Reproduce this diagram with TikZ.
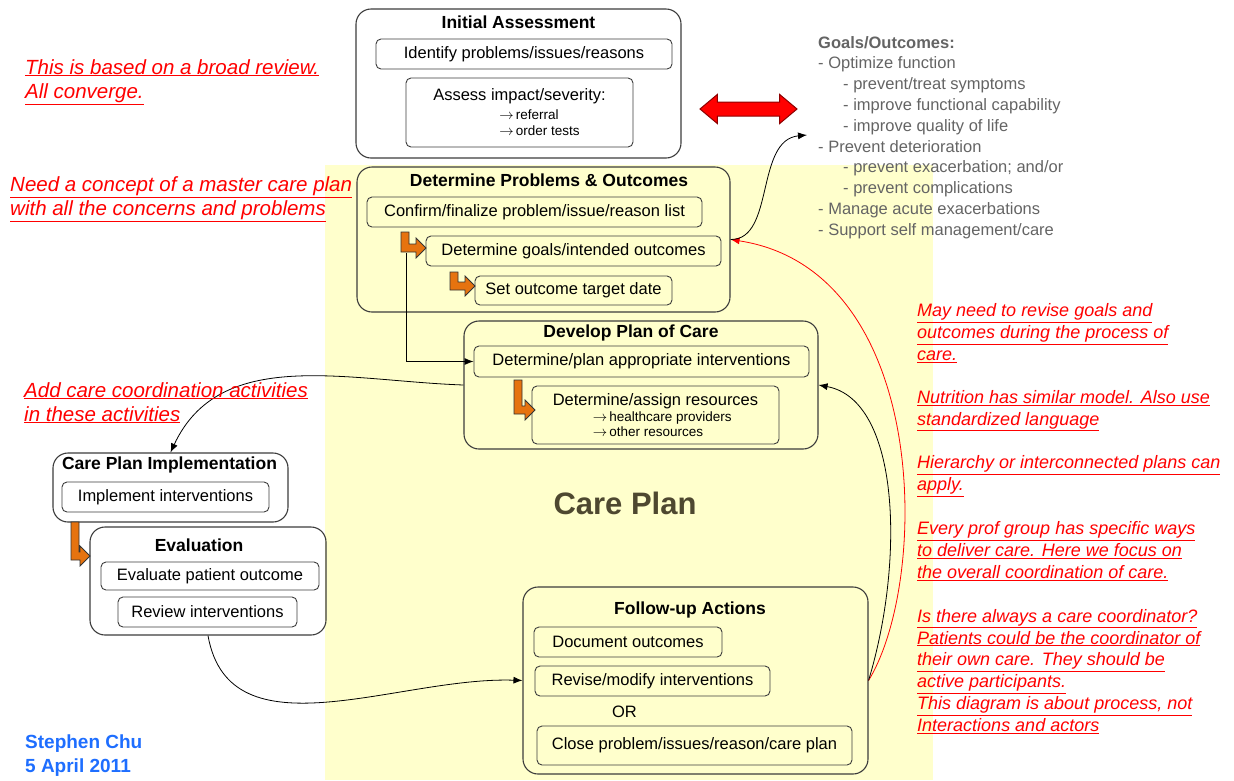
\documentclass[tikz,border=0pt]{standalone}
\usepackage{fontspec}
\setmainfont{Liberation Sans}
\usepackage{tikz}
\definecolor{cpyellow}{RGB}{255, 255, 204}
\definecolor{linegray}{RGB}{60, 60, 60}
\definecolor{goalgray}{RGB}{100, 100, 100}
\definecolor{bendorange}{RGB}{230, 115, 15}
\definecolor{nameblue}{RGB}{30, 110, 255}
\definecolor{careplanbrown}{RGB}{78, 72, 48}
\definecolor{darkred}{RGB}{140, 0, 0}
\usetikzlibrary{arrows.meta}
\usetikzlibrary{shapes.arrows}

\newcommand{\resline}[2]{\hspace*{#1}{\fontsize{13.5}{15}\selectfont$\rightarrow$\,#2}}

\tikzset{
  stagebox/.style={rectangle, rounded corners=15pt, draw=linegray, line width=1.1pt, inner sep=0pt},
  stepitem/.style={rectangle, rounded corners=5pt, draw=linegray, line width=0.9pt, inner sep=0pt, align=center, font=\fontsize{16.5}{19}\selectfont},
  stagetitle/.style={inner sep=0pt, font=\bfseries\fontsize{17.5}{20}\selectfont},
  conn/.style={line width=0.8pt, color=black, -{Latex[length=9pt, width=7pt]}},
  redconn/.style={line width=0.8pt, color=red, -{Latex[length=9pt, width=7pt]}},
  orangebend/.style={fill=bendorange, draw=black!80, line width=0.8pt, line join=miter},
  sidenote/.style={anchor=north west, inner sep=0pt, align=left, text=red, font=\itshape\fontsize{20.5}{24}\selectfont},
  rightnote/.style={anchor=north west, inner sep=0pt, align=left, text=red, font=\itshape\fontsize{18}{21.84}\selectfont},
  pics/bentarrow/.style 2 args={code={
    \filldraw [orangebend] (0pt, 0pt) -- (8pt, 0pt) -- (8pt, -#1pt+8pt) -- (#2pt-10pt, -#1pt+8pt)
      -- (#2pt-10pt, -#1pt+14pt) -- (#2pt, -#1pt+4pt) -- (#2pt-10pt, -#1pt-6pt)
      -- (#2pt-10pt, -#1pt) -- (0pt, -#1pt) -- cycle;
  }}
}

\begin{document}
\begin{tikzpicture}
\useasboundingbox (0pt, 0pt) rectangle (1234pt, -780pt);
% care plan area
\fill [cpyellow] (325pt, -165pt) rectangle (933pt, -780pt);
\node (cptitle) [font=\bfseries\fontsize{31}{36}\selectfont, text=careplanbrown] at (625pt, -503pt) {Care Plan};

% initial assessment
\node (ia) [stagebox, minimum width=325pt, minimum height=149pt] at (518.5pt, -83.5pt) {};
\node (iatitle) [stagetitle] at (518.5pt, -22pt) {Initial Assessment};
\node (ia1) [stepitem, minimum width=296pt, minimum height=30pt] at (524pt, -54pt) {Identify problems/issues/reasons};
\node (ia2) [stepitem, align=left, minimum width=227pt, minimum height=69pt] at (519.5pt, -112.5pt) {Assess impact/severity:\\ \resline{66pt}{referral}\\[-3pt] \resline{66pt}{order tests}};

% determine problems & outcomes
\node (dpo) [stagebox, minimum width=373pt, minimum height=145pt] at (543.5pt, -239.5pt) {};
\node (dpotitle) [stagetitle] at (549pt, -180pt) {Determine Problems \& Outcomes};
\node (dpo1) [stepitem, minimum width=335pt, minimum height=30pt] at (534.5pt, -212pt) {Confirm/finalize problem/issue/reason list};
\node (dpo2) [stepitem, minimum width=295pt, minimum height=30pt] at (573.5pt, -251pt) {Determine goals/intended outcomes};
\node (dpo3) [stepitem, minimum width=197pt, minimum height=29pt] at (573.5pt, -290.5pt) {Set outcome target date};
\pic at (401pt, -232pt) {bentarrow={20}{25}};
\pic at (450pt, -272pt) {bentarrow={18}{25}};
\coordinate (elbowstart) at (406pt, -253pt);

% develop plan of care
\node (dp) [stagebox, minimum width=354pt, minimum height=128pt] at (641pt, -385pt) {};
\node (dptitle) [stagetitle] at (631pt, -333pt) {Develop Plan of Care};
\node (dp1) [stepitem, minimum width=335pt, minimum height=31pt] at (641.5pt, -361.5pt) {Determine/plan appropriate interventions};
\node (dp2) [stepitem, align=left, minimum width=247pt, minimum height=58pt] at (655.5pt, -415pt) {Determine/assign resources\\[-3pt] \resline{40pt}{healthcare providers}\\[-4pt] \resline{40pt}{other resources}};
\pic at (514pt, -380pt) {bentarrow={34}{21}};

% care plan implementation
\node (cpi) [stagebox, minimum width=235pt, minimum height=69pt] at (170.5pt, -487.5pt) {};
\node (cpititle) [stagetitle] at (169.5pt, -465pt) {Care Plan Implementation};
\node (cpi1) [stepitem, minimum width=207pt, minimum height=30pt] at (165.5pt, -497pt) {Implement interventions};
\pic at (71pt, -522pt) {bentarrow={38}{19}};

% evaluation
\node (ev) [stagebox, minimum width=236pt, minimum height=108pt] at (208pt, -581pt) {};
\node (evtitle) [stagetitle] at (199pt, -545pt) {Evaluation};
\node (ev1) [stepitem, minimum width=218pt, minimum height=28pt] at (210pt, -576pt) {Evaluate patient outcome};
\node (ev2) [stepitem, minimum width=179pt, minimum height=30pt] at (207.5pt, -612pt) {Review interventions};

% follow-up actions
\node (fu) [stagebox, minimum width=345pt, minimum height=187pt] at (695.5pt, -680.5pt) {};
\node (futitle) [stagetitle] at (690pt, -610pt) {Follow-up Actions};
\node (fu1) [stepitem, minimum width=188pt, minimum height=30pt] at (628pt, -642pt) {Document outcomes};
\node (fu2) [stepitem, minimum width=235pt, minimum height=30pt] at (652.5pt, -681pt) {Revise/modify interventions};
\node (fuor) [font=\fontsize{16.5}{19}\selectfont, inner sep=0pt] at (624.5pt, -712pt) {OR};
\node (fu3) [stepitem, minimum width=315pt, minimum height=39pt] at (694.5pt, -745.5pt) {Close problem/issues/reason/care plan};

% goals
\node (goalarrow) [double arrow, draw=darkred, fill=red, line width=1pt, minimum height=97pt, minimum width=28pt, inner xsep=0pt, inner ysep=6.5pt, double arrow head extend=7.5pt, double arrow tip angle=80] at (748.5pt, -109pt) {};
\node (goals) [anchor=north west, inner sep=0pt, align=left, text=goalgray, font=\fontsize{16.5}{20.8}\selectfont] at (818pt, -36pt) {\textbf{Goals/Outcomes:}\\- Optimize function\\\hspace*{25pt}- prevent/treat symptoms\\\hspace*{25pt}- improve functional capability\\\hspace*{25pt}- improve quality of life\\- Prevent deterioration\\\hspace*{25pt}- prevent exacerbation; and/or\\\hspace*{25pt}- prevent complications\\- Manage acute exacerbations\\- Support self management/care};
\coordinate (goalspt) at (807pt, -135pt);

% connectors
\draw [conn] (elbowstart) |- (dp1.west);
\draw [conn] (dp.west) to[out=178, in=65] (cpi.north);
\draw [conn] (ev.south) to[out=-80, in=178] (fu.west);
\draw [redconn] (fu.east) .. controls (930pt, -580pt) and (930pt, -270pt) .. (dpo.east);
\draw [conn] (fu.east) .. controls (905pt, -560pt) and (900pt, -400pt) .. (dp.east);
\draw [conn] (dpo.east) .. controls (775pt, -240pt) and (755pt, -140pt) .. (goalspt);

% notes
\node (note1) [sidenote] at (25pt, -59pt) {\underline{This is based on a broad review.}\\\underline{All converge.}};
\node (note2) [sidenote] at (10pt, -176pt) {\underline{Need a concept of a master care plan}\\\underline{with all the concerns and problems}};
\node (note3) [sidenote] at (24pt, -382pt) {\underline{Add care coordination activities}\\\underline{in these activities}};
\node (rnote1) [rightnote] at (917pt, -303.5pt) {\underline{May need to revise goals and}\\\underline{outcomes during the process of}\\\underline{care.}};
\node (rnote2) [rightnote] at (917pt, -390pt) {\underline{Nutrition has similar model. Also use}\\\underline{standardized language}};
\node (rnote3) [rightnote] at (917pt, -455.5pt) {\underline{Hierarchy or interconnected plans can}\\\underline{apply.}};
\node (rnote4) [rightnote] at (917pt, -521.5pt) {\underline{Every prof group has specific ways}\\\underline{to deliver care. Here we focus on}\\\underline{the overall coordination of care.}};
\node (rnote5) [rightnote] at (917pt, -609pt) {\underline{Is there always a care coordinator?}\\\underline{Patients could be the coordinator of}\\\underline{their own care. They should be}\\\underline{active participants.}\\\underline{This diagram is about process, not}\\\underline{Interactions and actors}};

% author
\node (author) [anchor=north west, inner sep=0pt, align=left, text=nameblue, font=\bfseries\fontsize{19}{24}\selectfont] at (25pt, -735pt) {Stephen Chu\\5 April 2011};
\end{tikzpicture}
\end{document}
